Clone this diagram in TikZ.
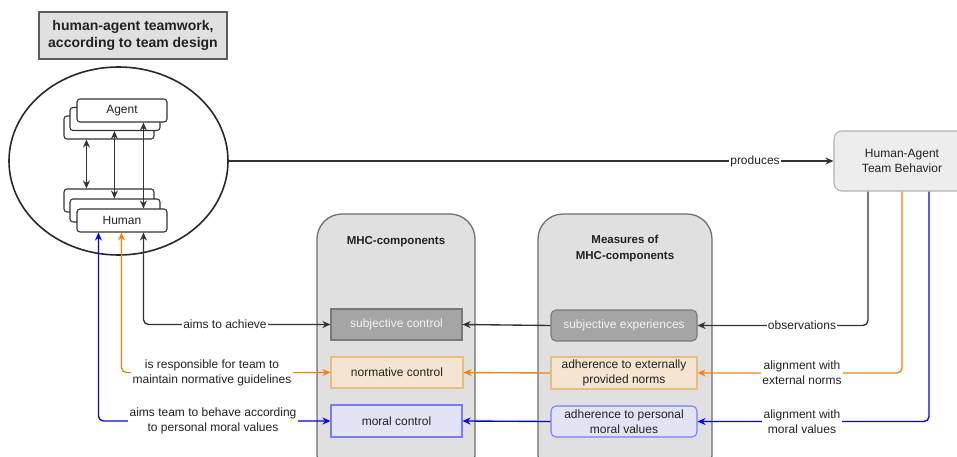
\documentclass[tikz,border=0pt]{standalone}
\usepackage{fontspec}
\setmainfont{Liberation Sans}
\usetikzlibrary{shapes.geometric,arrows.meta}
\definecolor{dk}{HTML}{333333}
\definecolor{orng}{HTML}{FF8000}
\definecolor{blu}{HTML}{0000FF}
\definecolor{cont}{HTML}{E0E0E0}
\definecolor{contb}{HTML}{6E6E6E}
\definecolor{subjf}{HTML}{A5A5A5}
\definecolor{subjb}{HTML}{6A6A6A}
\definecolor{normf}{HTML}{F6E4D2}
\definecolor{normb}{HTML}{E3C07D}
\definecolor{morf}{HTML}{E1E4F5}
\definecolor{morb}{HTML}{7A7AFF}
\definecolor{txt}{HTML}{222222}
\tikzset{
  every node/.style={text=txt},
  lbl/.style={font=\fontsize{12}{15}\selectfont, align=center, fill=white, inner sep=1.5pt},
  stackbox/.style={draw=dk, line width=1.1pt, fill=white, rounded corners=3pt, minimum width=90pt, minimum height=23pt, inner sep=0pt, font=\fontsize{12}{14}\selectfont},
  container/.style={draw=contb, line width=1.3pt, fill=cont, rounded corners=25pt},
  inbox/.style={minimum width=131pt, minimum height=31pt, inner sep=0pt, line width=1.1pt, align=center, font=\fontsize{12}{15}\selectfont},
  subjbox/.style={inbox, fill=subjf, draw=subjb!90, text=white!95!black},
  normbox/.style={inbox, fill=normf, draw=normb},
  morbox/.style={inbox, fill=morf, draw=morb},
  conn/.style={line width=1.35pt, -{Stealth[length=8pt,width=7pt]}},
  dconn/.style={line width=1.35pt, {Stealth[length=8pt,width=7pt]}-{Stealth[length=8pt,width=7pt]}},
  hdr/.style={font=\bfseries\fontsize{11.5}{16}\selectfont, align=center}
}
\begin{document}
\begin{tikzpicture}[x=1pt,y=-1pt]
\useasboundingbox (0,0) rectangle (957,457);
\clip (0,0) rectangle (957,457);

% title
\node[draw=dk!80, line width=1.1pt, fill=cont, minimum width=188pt, minimum height=47pt, inner sep=0pt, align=center, font=\bfseries\fontsize{14}{17}\selectfont] (title) at (133,35.5) {human-agent teamwork,\\according to team design};

% ellipse
\node[ellipse, draw=dk!80!black, line width=1.6pt, minimum width=219pt, minimum height=188pt, inner sep=0pt] (team) at (118.5,161) {};

% agent stack
\node[stackbox] (ag2) at (109,127.5) {};
\node[stackbox] (ag1) at (115,119) {};
\node[stackbox] (ag) at (122,110.5) {Agent};
% human stack
\node[stackbox] (hu2) at (109,200.5) {};
\node[stackbox] (hu1) at (115,210.5) {};
\node[stackbox] (hu) at (122,220.5) {Human};

\draw[dconn, dk] ([xshift=23pt]ag2.south west) -- ([xshift=23pt]hu2.north west);
\draw[dconn, dk] ([xshift=45pt]ag1.south west) -- ([xshift=45pt]hu1.north west);
\draw[dconn, dk] ([xshift=67pt]ag.south west) -- ([xshift=67pt]hu.north west);

% containers
\draw[container] (317,214) rectangle (475,480);
\draw[container] (538,214) rectangle (712,480);
\node[hdr] (hmhc) at (396,242) {MHC-components};
\node[hdr] (hmeas) at (625,249) {Measures of\\MHC-components};

% inner boxes
\node[subjbox] (sc) at (396.5,324.5) {subjective control};
\node[normbox, minimum width=132pt] (nc) at (397,372.5) {normative control};
\node[morbox, minimum height=32pt] (mc) at (396.5,421) {moral control};

\node[subjbox, minimum width=146pt, rounded corners=5pt] (se) at (624,325.5) {subjective experiences};
\node[normbox, minimum width=146pt, minimum height=32pt] (an) at (624,373) {adherence to externally\\provided norms};
\node[morbox, minimum width=146pt, rounded corners=5pt] (ap) at (624,421.5) {adherence to personal\\moral values};

% HATB
\node[draw=black!30, fill=black!7, line width=1.1pt, rounded corners=8pt, minimum width=136pt, minimum height=60pt, inner sep=0pt, align=center, font=\fontsize{12}{15}\selectfont] (hatb) at (902,161) {Human-Agent\\Team Behavior};

% produces
\draw[conn, dk] (team.east) -- (hatb.west);
\node[lbl] (lprod) at (755,161) {produces};

% from HATB
\draw[conn, dk, rounded corners=5pt] ([xshift=-34pt]hatb.south) |- (se.east);
\draw[conn, orng, rounded corners=5pt] (hatb.south) |- (an.east);
\draw[conn, blu, rounded corners=5pt] ([xshift=27pt]hatb.south) |- (ap.east);
\node[lbl, inner sep=0.5pt] (lobs) at (802,325.5) {observations};
\node[lbl] (lext) at (802,373) {alignment with\\external norms};
\node[lbl] (lmor) at (802,421.5) {alignment with\\moral values};

% measures -> components
\draw[conn, dk] (se.west) -- (sc.east);
\draw[conn, orng] (an.west) -- (nc.east);
\draw[conn, blu] (ap.west) -- (mc.east);

% to human
\draw[dconn, dk, rounded corners=5pt] ([xshift=67pt]hu.south west) |- (sc.west);
\draw[dconn, orng, rounded corners=5pt] ([xshift=45pt]hu.south west) |- (nc.west);
\draw[dconn, blu, rounded corners=5pt] ([xshift=22pt]hu.south west) |- (mc.west);
\node[lbl] (laim) at (225,324.5) {aims to achieve};
\node[lbl] (lresp) at (212,372.5) {is responsible for team to\\maintain normative guidelines};
\node[lbl] (lteam) at (213,421) {aims team to behave according\\to personal moral values};
\end{tikzpicture}
\end{document}
